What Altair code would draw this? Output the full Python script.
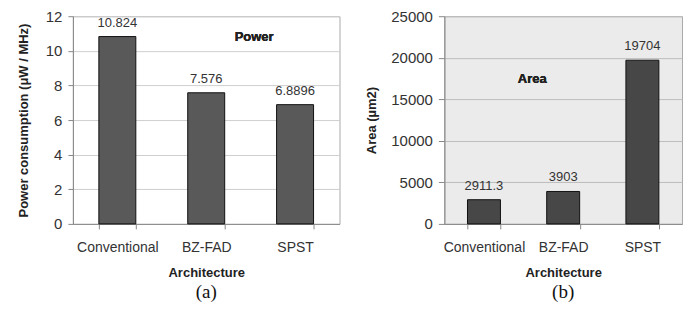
import altair as alt
import pandas as pd

categories = ["Conventional", "BZ-FAD", "SPST"]
power_values = [10.824, 7.576, 6.8896]
power_labels = ["10.824", "7.576", "6.8896"]
area_values = [2911.3, 3903, 19704]
area_labels = ["2911.3", "3903", "19704"]
power_ticks = [0, 2, 4, 6, 8, 10, 12]
area_ticks = [0, 5000, 10000, 15000, 20000, 25000]

FONT = "Liberation Sans"

power_df = pd.DataFrame({"arch": categories, "value": power_values, "label": power_labels})
area_df = pd.DataFrame({"arch": categories, "value": area_values, "label": area_labels})


def panel(df, ticks, ytitle, bar_color, bg, grid, note, note_cat, note_dx, note_y, caption,
          width, ytick, ypad, ytitlepad):
    xscale = alt.Scale(paddingInner=0.584, paddingOuter=0.292)
    yscale = alt.Scale(domain=[ticks[0], ticks[-1]], nice=False)
    xaxis = alt.Axis(
        title="Architecture",
        labelAngle=0,
        labelFont=FONT,
        labelFontSize=14,
        labelColor="#333333",
        labelPadding=12,
        tickBand="extent",
        tickSize=5,
        tickColor="#888888",
        domainColor="#888888",
        titleFont=FONT,
        titleFontSize=13,
        titleFontWeight="bold",
        titleColor="#222222",
        titlePadding=12,
    )
    yaxis = alt.Axis(
        title=ytitle,
        values=ticks,
        format="d",
        labelOverlap=False,
        labelFont=FONT,
        labelFontSize=15,
        labelColor="#333333",
        labelPadding=ypad,
        tickSize=ytick,
        tickColor="#888888",
        domainColor="#888888",
        gridColor=grid,
        titleFont=FONT,
        titleFontSize=13,
        titleFontWeight="bold",
        titleColor="#222222",
        titlePadding=ytitlepad,
    )
    xenc = alt.X("arch:N", sort=categories, scale=xscale, axis=xaxis)
    yenc = alt.Y("value:Q", scale=yscale, axis=yaxis)
    bars = alt.Chart(df).mark_bar(color=bar_color, stroke="#111111", strokeWidth=1).encode(x=xenc, y=yenc)
    labels = alt.Chart(df).mark_text(
        font=FONT, fontSize=13, color="#333333", baseline="bottom", dy=-7
    ).encode(x=xenc, y=yenc, text="label:N")
    note_mark = alt.Chart(df).mark_text(
        font=FONT, fontSize=13, fontWeight="bold", color="#222222", baseline="middle", dx=note_dx
    ).encode(
        x=alt.X(datum=note_cat, type="nominal", scale=xscale, axis=xaxis),
        y=alt.Y(datum=note_y, type="quantitative", scale=yscale, axis=yaxis),
        text=alt.value(note),
    )
    return alt.layer(bars, labels, note_mark).properties(
        width=width,
        height=208,
        view=alt.ViewBackground(fill=bg, stroke="#aaaaaa"),
        title=alt.TitleParams(
            caption, orient="bottom", font="Liberation Serif", fontSize=19,
            fontWeight="normal", color="#111111", offset=3,
        ),
    )


left = panel(power_df, power_ticks, "Power consumption (μW / MHz)", "#595959", "#ffffff", "#cfcfcf",
             "Power", "SPST", -41, 10.8, "(a)", 267, 5, 6, 15)
right = panel(area_df, area_ticks, "Area (µm2)", "#474747", "#ebebeb", "#bdbdbd",
              "Area", "BZ-FAD", -31, 17500, "(b)", 238, 6, 6, 12)

chart = alt.hconcat(left, right, spacing=24).properties(
    padding={"left": 8, "top": 0, "right": 0, "bottom": 0},
    background="#ffffff",
)
chart.save("out.html", embed_options={"renderer": "svg", "actions": False})
